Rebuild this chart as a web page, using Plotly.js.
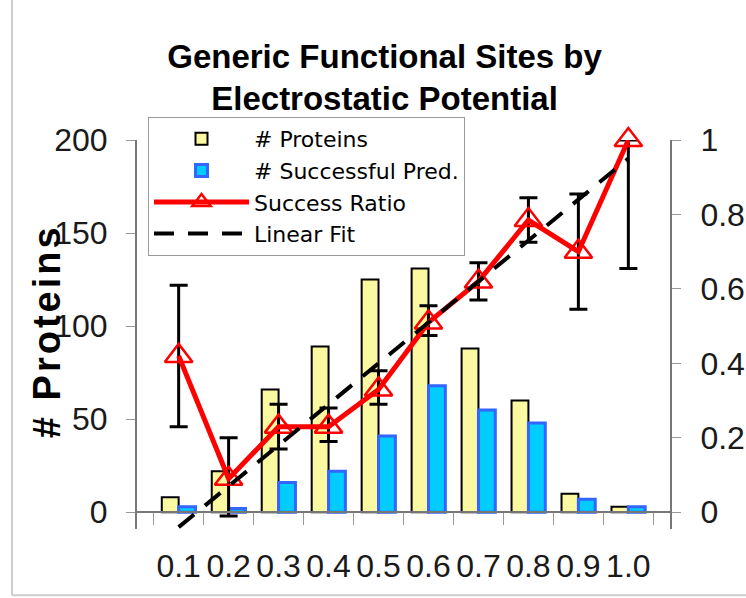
<!DOCTYPE html>
<html>
<head>
<meta charset="utf-8">
<script src="https://cdn.plot.ly/plotly-3.0.1.min.js"></script>
<style>html,body{margin:0;padding:0;background:#fff;}#chart{width:746px;height:598px;}</style>
</head>
<body>
<div id="chart"></div>
<script>
// ---- data ----
var categories = ['0.1','0.2','0.3','0.4','0.5','0.6','0.7','0.8','0.9','1.0'];
var proteins   = [8, 22, 66, 89, 125, 131, 88, 60, 10, 3];
var successful = [3, 2, 16, 22, 41, 68, 55, 48, 7, 3];
var successRatio = [0.42, 0.09, 0.23, 0.23, 0.33, 0.51, 0.62, 0.785, 0.70, 1.0];
var errPlus  = [0.19, 0.11, 0.06, 0.05, 0.05, 0.045, 0.05, 0.06, 0.155, 0.0];
var errMinus = [0.19, 0.10, 0.06, 0.04, 0.04, 0.035, 0.05, 0.06, 0.155, 0.345];
var fitX = ['0.1', '1.0'];
var fitY = [-0.04, 0.95];
var leftTicks = [0, 50, 100, 150, 200];
var rightTicks = [0, 0.2, 0.4, 0.6, 0.8, 1];

var FONT = 'Arial, "Liberation Sans", sans-serif';
var WIDE = '"DejaVu Sans", Verdana, sans-serif';

var traces = [
  {type:'bar', name:'# Proteins', x:categories, y:proteins, yaxis:'y',
   marker:{color:'#FAF8A0', line:{color:'#000000', width:2}}},
  {type:'bar', name:'# Successful Pred.', x:categories, y:successful, yaxis:'y',
   marker:{color:'#00CCFF', line:{color:'#3366FF', width:3}}},
  {type:'scatter', mode:'lines+markers', name:'Success Ratio', x:categories, y:successRatio, yaxis:'y2',
   line:{color:'#FF0000', width:5},
   marker:{symbol:'triangle-up-open', size:24, color:'#FF0000', line:{width:2.5, color:'#FF0000'}},
   error_y:{type:'data', symmetric:false, array:errPlus, arrayminus:errMinus, color:'#000000', thickness:3, width:9},
   cliponaxis:false},
  {type:'scatter', mode:'lines', name:'Linear Fit', x:fitX, y:fitY, yaxis:'y2',
   line:{color:'#000000', width:4, dash:'20px,14px'}}
];

var layout = {
  width:746, height:598,
  margin:{l:137, r:76, t:140, b:69.3, pad:0},
  paper_bgcolor:'#ffffff', plot_bgcolor:'#ffffff',
  font:{family:FONT, color:'#1a1a1a'},
  title:{text:'<b>Generic Functional Sites by<br>Electrostatic Potential</b>',
         font:{family:FONT, size:33, color:'#000000'},
         x:0.5155, xanchor:'center', xref:'container', y:1-67.5/598, yanchor:'middle', yref:'container'},
  barmode:'group', bargap:0.325, bargroupgap:0,
  showlegend:true,
  legend:{x:(148-137)/533, y:(528.7-117)/388.7, xanchor:'left', yanchor:'top',
          bgcolor:'#ffffff', bordercolor:'#999999', borderwidth:1,
          font:{family:WIDE, size:22, color:'#000000'}, itemwidth:95, tracegroupgap:0},
  xaxis:{type:'category', anchor:'free', position:9/209,
         showline:true, linecolor:'#777777', linewidth:2,
         ticks:'outside', ticklen:12, tickwidth:1, tickcolor:'#999999', tickson:'boundaries',
         tickangle:0,
         tickfont:{family:FONT, size:32, color:'#1a1a1a'}, ticklabelstandoff:25,
         showgrid:false, zeroline:false},
  yaxis:{range:[-9, 200], tickvals:leftTicks, ticktext:leftTicks.map(String),
         showline:true, linecolor:'#777777', linewidth:2, mirror:false,
         ticks:'outside', ticklen:9, tickwidth:1, tickcolor:'#999999',
         tickfont:{family:FONT, size:32, color:'#1a1a1a'}, ticklabelstandoff:12,
         showgrid:false, zeroline:false},
  yaxis2:{range:[-0.045, 1], overlaying:'y', side:'right', tickvals:rightTicks,
          ticktext:rightTicks.map(function(v){return String(v);}),
          showline:true, linecolor:'#777777', linewidth:2,
          ticks:'outside', ticklen:9, tickwidth:1, tickcolor:'#999999',
          tickfont:{family:FONT, size:32, color:'#1a1a1a'}, ticklabelstandoff:13,
          showgrid:false, zeroline:false},
  annotations:[
    {text:'<b><span style="letter-spacing:3px"># Proteins</span></b>', xref:'paper', yref:'paper',
     x:(47-137)/533, y:(528.7-331)/388.7, xanchor:'center', yanchor:'middle', textangle:-90,
     showarrow:false, font:{family:FONT, size:38, color:'#000000'}}
  ],
  shapes:[
    {type:'line', xref:'paper', yref:'paper', x0:(12-137)/533, x1:(12-137)/533, y0:(528.7-0)/388.7, y1:(528.7-595)/388.7,
     line:{color:'#cccccc', width:2}},
    {type:'line', xref:'paper', yref:'paper', x0:(12-137)/533, x1:(746-137)/533, y0:(528.7-595)/388.7, y1:(528.7-595)/388.7,
     line:{color:'#cccccc', width:2}}
  ]
};

Plotly.newPlot('chart', traces, layout, {staticPlot:true, displayModeBar:false});
</script>
</body>
</html>
